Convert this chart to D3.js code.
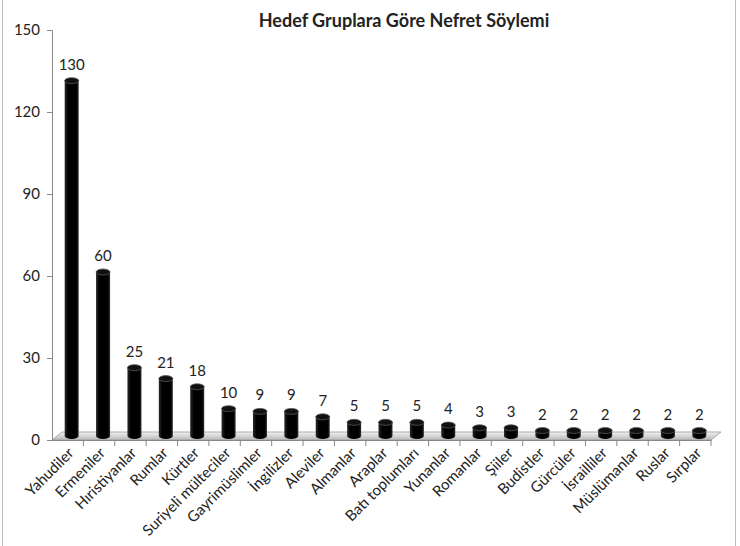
<!DOCTYPE html>
<html>
<head>
  <meta charset="utf-8">
  <title>Hedef Gruplara Göre Nefret Söylemi</title>
  <style type="text/css">
    body{ margin:0; background:#fff; }
    #chart text{ font-family: Lato, "Open Sans", sans-serif; fill:#222; }
  </style>
</head>
<body>
<div id="chart"></div>
<script src="https://d3js.org/d3.v7.min.js"></script>
<script type="text/javascript">
  var groups = ["Yahudiler","Ermeniler","Hıristiyanlar","Rumlar","Kürtler","Suriyeli mülteciler",
                "Gayrimüslimler","İngilizler","Aleviler","Almanlar","Araplar","Batı toplumları",
                "Yunanlar","Romanlar","Şiiler","Budistler","Gürcüler","İsrailliler",
                "Müslümanlar","Ruslar","Sırplar"];
  var counts = [130,60,25,21,18,10,9,9,7,5,5,5,4,3,3,2,2,2,2,2,2];
  var yTicks = [0,30,60,90,120,150];

  var W = 740, H = 546;
  var padL = 52, padR = 711, padT = 30, padB = 440;
  var dx = 10, dy = -8;   // depth of the 3d floor

  var svg = d3.select("#chart").append("svg")
      .attr("width", W).attr("height", H);

  // outer frame
  svg.append("rect")
     .attr("x", 2.5).attr("y", -1).attr("width", 733).attr("height", H + 2)
     .style("fill", "none").style("stroke", "#bbb");

  var x = d3.scaleBand().domain(groups).range([padL, padR]);
  var y = d3.scaleLinear().domain([0, 150]).range([padB, padT]);

  var defs = svg.append("defs");
  var fg = defs.append("linearGradient").attr("id", "floor")
      .attr("x1", 0).attr("y1", 0).attr("x2", 0).attr("y2", 1);
  fg.append("stop").attr("offset", "0%").attr("stop-color", "#f2f2f2");
  fg.append("stop").attr("offset", "100%").attr("stop-color", "#b8b8b8");

  var bg = defs.append("linearGradient").attr("id", "cyl")
      .attr("x1", 0).attr("y1", 0).attr("x2", 1).attr("y2", 0);
  bg.append("stop").attr("offset", "0%").attr("stop-color", "#2a2a2a");
  bg.append("stop").attr("offset", "25%").attr("stop-color", "#000");
  bg.append("stop").attr("offset", "85%").attr("stop-color", "#000");
  bg.append("stop").attr("offset", "100%").attr("stop-color", "#333");

  // floor
  svg.append("path")
     .attr("d", "M" + padL + "," + padB + "L" + padR + "," + padB +
                "L" + (padR + dx) + "," + (padB + dy) + "L" + (padL + dx) + "," + (padB + dy) + "Z")
     .style("fill", "url(#floor)").style("stroke", "#999").style("stroke-width", 0.8);

  // y axis
  var yAxis = d3.axisLeft(y).tickValues(yTicks).tickSize(5).tickPadding(7);
  var gy = svg.append("g").attr("transform", "translate(" + padL + ",0)").call(yAxis);
  gy.selectAll("path,line").style("stroke", "#888");
  gy.selectAll("text").style("font-size", "15px");

  // x axis
  var xAxis = d3.axisBottom(x).tickSize(0).tickFormat("");
  var gx = svg.append("g").attr("transform", "translate(0," + padB + ")").call(xAxis);
  gx.select(".domain").style("stroke", "#888");
  gx.selectAll(".sep").data(groups).enter().append("line")
    .attr("x1", function(d){ return x(d) + x.bandwidth(); })
    .attr("x2", function(d){ return x(d) + x.bandwidth(); })
    .attr("y1", 0).attr("y2", 6).style("stroke", "#888");

  svg.selectAll(".xlab").data(groups).enter().append("text")
     .attr("class", "xlab")
     .attr("transform", function(d){
        return "translate(" + (x(d) + x.bandwidth() / 2 + 7) + "," + (padB + 14) + ") rotate(-45)";
     })
     .style("text-anchor", "end")
     .style("font-size", "15px")
     .text(function(d){ return d; });

  // cylinders
  var bw = 14, ry = 3;
  var bars = svg.selectAll(".bar").data(groups).enter().append("g").attr("class", "bar");
  bars.append("path")
      .attr("d", function(d, i){
         var cx = x(d) + x.bandwidth() / 2 + dx / 2 - 1;
         var y0 = padB + dy / 2, y1 = y(counts[i]) + dy / 2;
         var l = cx - bw / 2, r = cx + bw / 2;
         return "M" + l + "," + y1 + "L" + l + "," + y0 +
                "A" + (bw / 2) + "," + ry + " 0 0 0 " + r + "," + y0 +
                "L" + r + "," + y1 + "Z";
      })
      .style("fill", "url(#cyl)");
  bars.append("ellipse")
      .attr("cx", function(d){ return x(d) + x.bandwidth() / 2 + dx / 2 - 1; })
      .attr("cy", function(d, i){ return y(counts[i]) + dy / 2; })
      .attr("rx", bw / 2).attr("ry", ry)
      .style("fill", "#111").style("stroke", "#555").style("stroke-width", 0.8);

  // value labels
  svg.selectAll(".val").data(groups).enter().append("text")
     .attr("x", function(d){ return x(d) + x.bandwidth() / 2 + dx / 2 - 1; })
     .attr("y", function(d, i){ return y(counts[i]) + dy / 2 - 11; })
     .style("text-anchor", "middle")
     .style("font-size", "15px")
     .text(function(d, i){ return counts[i]; });

  // title
  svg.append("text")
     .attr("x", 404).attr("y", 27)
     .style("text-anchor", "middle")
     .style("font-weight", "bold")
     .style("font-size", "18px")
     .text("Hedef Gruplara Göre Nefret Söylemi");
</script>
</body>
</html>
